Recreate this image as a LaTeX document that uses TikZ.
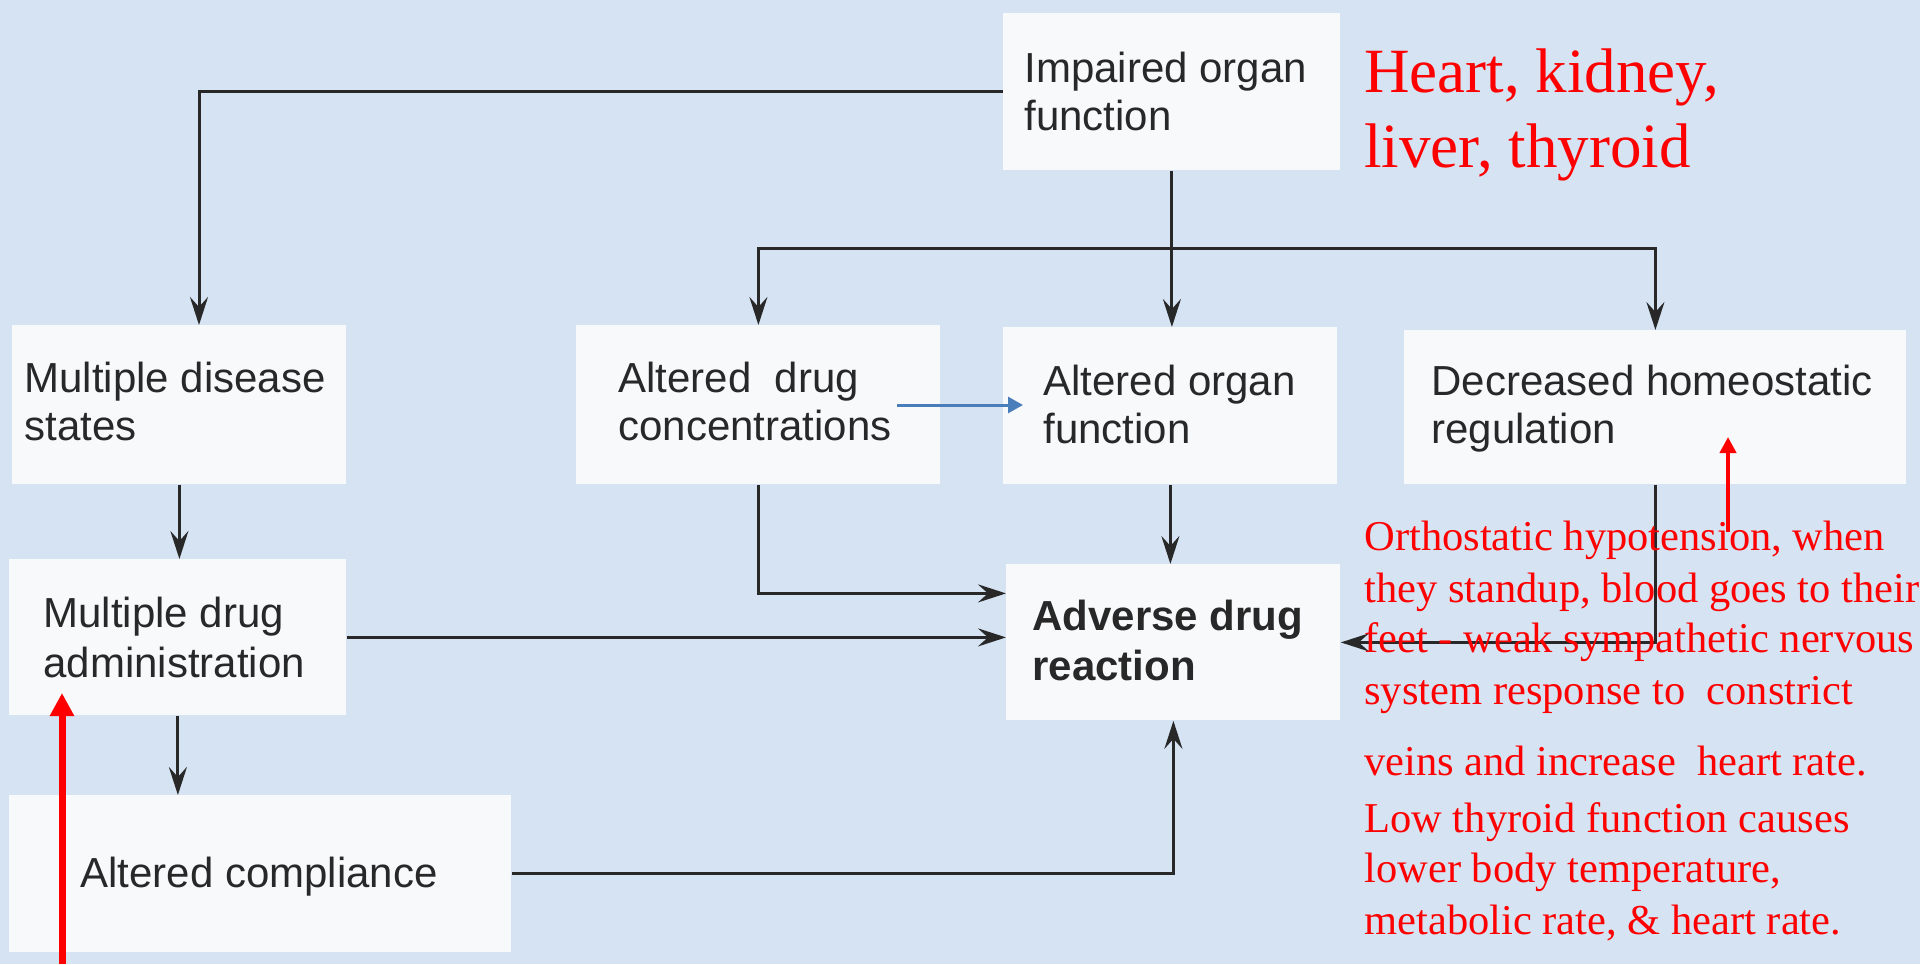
\documentclass[tikz,border=0pt]{standalone}
\usepackage{fontspec}
\setmainfont{Liberation Serif}
\newfontfamily\boxfont{Liberation Sans}
\usetikzlibrary{arrows.meta}
\definecolor{bgblue}{RGB}{213,227,242}
\definecolor{boxwhite}{RGB}{247,249,251}
\definecolor{ink}{RGB}{40,40,40}
\definecolor{bluearrow}{RGB}{74,126,187}
\definecolor{annot}{RGB}{255,0,0}
\begin{document}
\begin{tikzpicture}[x=0.5pt,y=-0.5pt,
  box/.style={fill=boxwhite, draw=none, inner sep=0pt, anchor=north west},
  lbl/.style={anchor=base west, inner sep=0pt, font=\boxfont\fontsize{21pt}{24pt}\selectfont, text=ink},
  lblb/.style={lbl, font=\boxfont\bfseries\fontsize{21pt}{24pt}\selectfont},
  note/.style={anchor=base west, inner sep=0pt, font=\fontsize{21.25pt}{26pt}\selectfont, text=annot},
  bignote/.style={anchor=base west, inner sep=0pt, font=\fontsize{31.5pt}{37.5pt}\selectfont, text=annot},
  conn/.style={draw=ink, line width=1.5pt, -{Stealth[length=14pt,width=9pt,inset=5pt]}},
  bluearr/.style={draw=bluearrow, line width=1.5pt, -{Triangle[length=7.5pt,width=8pt]}},
  redbig/.style={draw=annot, line width=3.5pt, -{Triangle[length=11.5pt,width=11.5pt]}},
  redsmall/.style={draw=annot, line width=2pt, -{Triangle[length=8pt,width=8pt]}}
]
\fill[bgblue] (0,0) rectangle (1920,964);
\useasboundingbox (0,0) rectangle (1920,964);

% boxes
\node[box, minimum width=168.5pt, minimum height=78.5pt] (imp) at (1003,13) {};
\node[box, minimum width=167pt, minimum height=79.5pt] (mds) at (12,325) {};
\node[box, minimum width=182pt, minimum height=79.5pt] (adc) at (576,325) {};
\node[box, minimum width=167pt, minimum height=78.5pt] (aof) at (1003,327) {};
\node[box, minimum width=251pt, minimum height=77pt] (dhr) at (1404,330) {};
\node[box, minimum width=168.5pt, minimum height=78pt] (mda) at (9,559) {};
\node[box, minimum width=167pt, minimum height=78pt] (adr) at (1006,564) {};
\node[box, minimum width=251pt, minimum height=78.5pt] (ac) at (9,795) {};

% box texts
\node[lbl] (t1a) at (1024,82) {Impaired organ};
\node[lbl] (t1b) at (1024,130) {function};
\node[lbl] (t2a) at (24,392) {Multiple disease};
\node[lbl] (t2b) at (24,440) {states};
\node[lbl] (t3a) at (618,392) {Altered\ \ drug};
\node[lbl] (t3b) at (618,440) {concentrations};
\node[lbl] (t4a) at (1043,395) {Altered organ};
\node[lbl] (t4b) at (1043,443) {function};
\node[lbl] (t5a) at (1431,395) {Decreased homeostatic};
\node[lbl] (t5b) at (1431,443) {regulation};
\node[lbl] (t6a) at (43,627) {Multiple drug};
\node[lbl] (t6b) at (43,677) {administration};
\node[lblb] (t7a) at (1032,630) {Adverse drug};
\node[lblb] (t7b) at (1032,680) {reaction};
\node[lbl] (t8a) at (80,887) {Altered compliance};

% helper coordinates
\coordinate (x199) at (199,0);
\coordinate (split) at (1170,248);
\coordinate (bs) at (897,405);
\coordinate (be) at (1023,405);
\coordinate (r1s) at (62,964);
\coordinate (r1e) at (62,693);
\coordinate (r2s) at (1728,532);
\coordinate (r2e) at (1728,437);

% connectors
\draw[conn] (imp.west) -| (mds.north -| x199);
\draw[conn] (imp.south) -- (imp.south |- aof.north);
\draw[conn] (split) -| (adc.north);
\draw[conn] (split) -| (dhr.north);
\draw[conn] (aof.south) -- (aof.south |- adr.north);
\draw[conn] (adc.south) |- ([yshift=24.5pt]adr.west);
\draw[conn] (mda.east) -- (mda.east -| adr.west);
\draw[conn] (dhr.south) |- (adr.east);
\draw[conn] (mds.south) -- (mds.south |- mda.north);
\draw[conn] (mda.south) -- (mda.south |- ac.north);
\draw[conn] (ac.east) -| (adr.south);
\draw[bluearr] (bs) -- (be);
\draw[redbig] (r1s) -- (r1e);
\draw[redsmall] (r2s) -- (r2e);

% annotations
\node[bignote] (h1) at (1364,92) {Heart, kidney,};
\node[bignote] (h2) at (1364,167) {liver, thyroid};
\node[note] (n1) at (1364,550) {Orthostatic hypotension, when};
\node[note] (n2) at (1364,602) {they standup, blood goes to their};
\node[note] (n3) at (1364,652) {feet - weak sympathetic nervous};
\node[note] (n4) at (1364,704) {system response to\ \ constrict};
\node[note] (n5) at (1364,775) {veins and increase\ \ heart rate.};
\node[note] (n6) at (1364,832) {Low thyroid function causes};
\node[note] (n7) at (1364,882) {lower body temperature,};
\node[note] (n8) at (1364,934) {metabolic rate, \& heart rate.};
\end{tikzpicture}
\end{document}
